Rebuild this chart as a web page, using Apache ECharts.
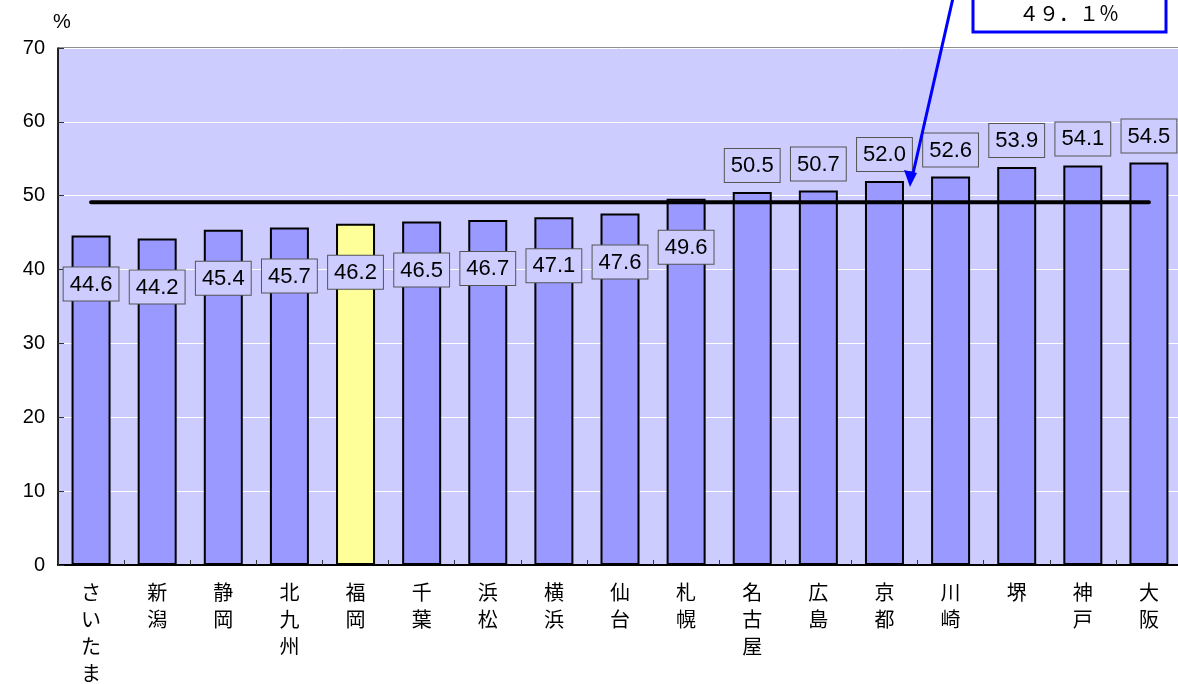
<!DOCTYPE html>
<html lang="ja">
<head>
    <meta charset="UTF-8">
    <title>chart</title>
    <script type="text/javascript" src="https://cdn.jsdelivr.net/npm/echarts@6/dist/echarts.min.js"></script>
    <style>
        html, body { margin: 0; padding: 0; background: #fff; }
    </style>
</head>
<body>
<div id="main" style="width:1178px;height:684px;"></div>
<script>
    // 都市別の値 (%)
    const cities = ['さいたま', '新潟', '静岡', '北九州', '福岡', '千葉', '浜松', '横浜', '仙台',
        '札幌', '名古屋', '広島', '京都', '川崎', '堺', '神戸', '大阪'];
    const rates = [44.6, 44.2, 45.4, 45.7, 46.2, 46.5, 46.7, 47.1, 47.6,
        49.6, 50.5, 50.7, 52.0, 52.6, 53.9, 54.1, 54.5];
    const average = 49.1;
    const averageText = '４９．１％';
    const highlightCity = '福岡';
    const yMin = 0, yMax = 70, yStep = 10;
    // この値以上のラベルは棒の上に置く
    const labelAboveFrom = 50;

    let myChart = echarts.init(document.getElementById('main'));

    const labelBox = {
        show: true,
        formatter: p => p.value.toFixed(1),
        color: '#000',
        fontSize: 22,
        fontFamily: 'Liberation Sans, Arial, sans-serif',
        backgroundColor: '#ccccff',
        borderColor: '#555',
        borderWidth: 1,
        padding: [6, 6, 5, 6]
    };

    let barData = rates.map((v, i) => {
        let above = v >= labelAboveFrom;
        return {
            value: v,
            itemStyle: { color: cities[i] === highlightCity ? '#ffff99' : '#9999ff' },
            label: above
                ? { position: 'top', distance: 10 }
                : { position: 'insideTop', distance: 32 }
        };
    });

    let option = {
        animation: false,
        backgroundColor: '#fff',
        grid: {
            left: 58, right: -4, top: 48, bottom: 119,
            outerBoundsMode: 'none',
            containLabel: false,
            show: true,
            backgroundColor: '#ccccff',
            borderColor: '#222',
            borderWidth: 1
        },
        xAxis: {
            type: 'category',
            data: cities,
            axisLine: { lineStyle: { color: '#000', width: 2 } },
            axisTick: { show: true, inside: true, length: 5, lineStyle: { color: '#333' } },
            axisLabel: {
                interval: 0,
                margin: 14,
                verticalAlign: 'top',
                fontSize: 20,
                lineHeight: 27,
                color: '#000',
                fontFamily: 'Noto Sans CJK JP',
                formatter: s => s.split('').join('\n')
            }
        },
        yAxis: {
            type: 'value',
            min: yMin, max: yMax, interval: yStep,
            name: '%',
            nameGap: 16,
            nameTextStyle: { color: '#000', fontSize: 20, align: 'left', padding: [0, 0, 0, -5],
                fontFamily: 'Liberation Sans, Arial, sans-serif' },
            axisLine: { show: true, lineStyle: { color: '#000', width: 1.5 } },
            axisTick: { show: true, inside: true, length: 6, lineStyle: { color: '#333' } },
            axisLabel: { color: '#000', fontSize: 20, margin: 13,
                fontFamily: 'Liberation Sans, Arial, sans-serif' },
            splitLine: { show: true, lineStyle: { color: '#ffffff', width: 1 } }
        },
        series: [
            {
                type: 'bar',
                data: barData,
                barWidth: 39,
                itemStyle: { borderColor: '#000', borderWidth: 2 },
                label: labelBox,
                z: 2
            },
            {
                type: 'line',
                data: cities.map(() => average),
                symbol: 'none',
                lineStyle: { color: '#000', width: 4, cap: 'round' },
                z: 3,
                silent: true
            }
        ],
        graphic: [
            {
                type: 'rect',
                shape: { x: 973, y: -20, width: 193, height: 52 },
                style: { fill: '#fff', stroke: '#0000ff', lineWidth: 3 },
                z: 10
            },
            {
                type: 'text',
                x: 1069, y: 13,
                style: {
                    text: averageText,
                    fill: '#000',
                    font: '20px "Noto Sans CJK JP"',
                    align: 'center',
                    verticalAlign: 'middle'
                },
                z: 11
            },
            {
                type: 'line',
                shape: { x1: 953, y1: -2, x2: 912, y2: 178 },
                style: { stroke: '#0000ff', lineWidth: 3 },
                z: 10
            },
            {
                type: 'polygon',
                shape: { points: [[910, 187], [904, 170], [917, 173]] },
                style: { fill: '#0000ff' },
                z: 10
            }
        ]
    };

    myChart.setOption(option);
</script>
</body>
</html>
